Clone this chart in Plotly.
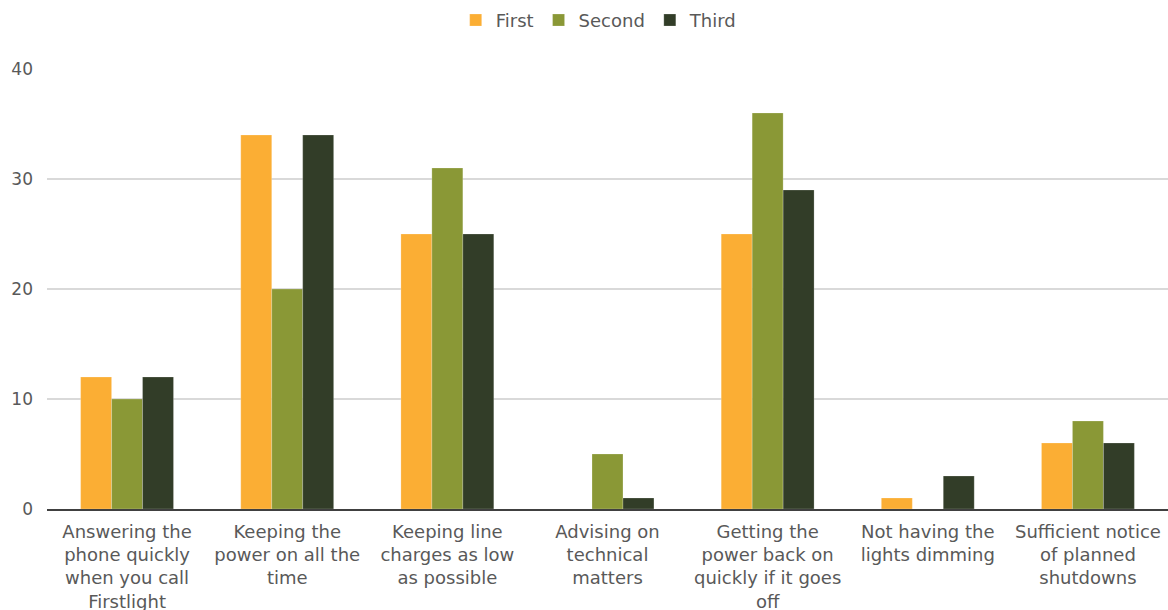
import plotly.graph_objects as go

categories = [
    "Answering the<br>phone quickly<br>when you call<br>Firstlight",
    "Keeping the<br>power on all the<br>time",
    "Keeping line<br>charges as low<br>as possible",
    "Advising on<br>technical<br>matters",
    "Getting the<br>power back on<br>quickly if it goes<br>off",
    "Not having the<br>lights dimming",
    "Sufficient notice<br>of planned<br>shutdowns",
]
first = [12, 34, 25, 0, 25, 1, 6]
second = [10, 20, 31, 5, 36, 0, 8]
third = [12, 34, 25, 1, 29, 3, 6]
y_ticks = [0, 10, 20, 30, 40]

series = [
    ("First", first, "#FBAE34"),
    ("Second", second, "#8A9836"),
    ("Third", third, "#323D28"),
]

fig = go.Figure()
for name, vals, color in series:
    fig.add_trace(go.Bar(
        name=name, x=categories, y=vals,
        marker=dict(color=color, line=dict(color="rgba(255,255,255,0.35)", width=0.6)),
    ))

font_family = "DejaVu Sans, Open Sans, sans-serif"
fig.update_layout(
    width=1168, height=610,
    margin=dict(l=47, r=0, t=69, b=101),
    paper_bgcolor="white", plot_bgcolor="white",
    barmode="group", bargap=0.42, bargroupgap=0,
    font=dict(family=font_family, color="#595959", size=18),
    legend=dict(
        orientation="h", xref="container", x=0.513, xanchor="center",
        yref="container", y=0.997, yanchor="top",
        font=dict(size=18, color="#595959"),
        itemwidth=30, traceorder="normal",
    ),
    xaxis=dict(
        showline=True, linecolor="#404040", linewidth=2,
        tickfont=dict(size=18, color="#595959"),
        ticks="", showgrid=False, ticklabelstandoff=5,
        automargin=False,
    ),
    yaxis=dict(
        range=[0, 40], tickvals=y_ticks, showgrid=True,
        gridcolor="#D9D9D9", gridwidth=1.5, zeroline=False,
        tickfont=dict(size=17, color="#595959"),
        ticklabelstandoff=13, automargin=False,
    ),
)

fig.write_html("out.html")
